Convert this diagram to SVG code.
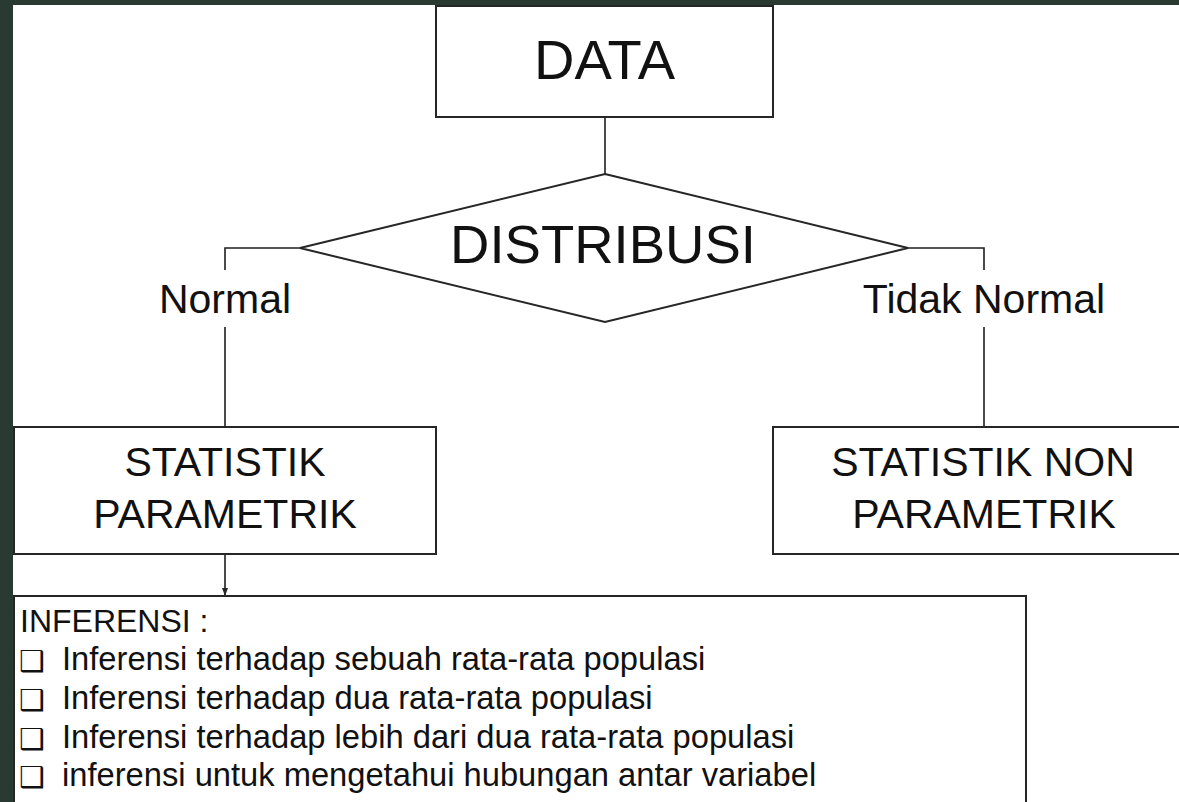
<svg xmlns="http://www.w3.org/2000/svg" width="1179" height="802" viewBox="0 0 1179 802">
<style>
.box{fill:#ffffff;stroke:#262626;stroke-width:2}
.ln{fill:none;stroke:#1e1e1e;stroke-width:1.6}
.t{font-family:"Liberation Sans",Arial,sans-serif;fill:#111111}
.c{text-anchor:middle}
.b{font-family:"DejaVu Sans","Noto Sans",sans-serif;fill:#111111}
</style>
<defs>
<marker id="ah" markerWidth="8" markerHeight="6" refX="8" refY="3" orient="auto" markerUnits="userSpaceOnUse">
<path d="M0,0 L8,3 L0,6 Z" fill="#262626"/>
</marker>
</defs>
<rect x="0" y="0" width="1179" height="802" fill="#283a32"/>
<rect x="13" y="5" width="1166" height="797" fill="#ffffff"/>
<g id="connectors">
<line class="ln" x1="605" y1="117" x2="605" y2="174"/>
<polyline class="ln" points="300,248 225,248 225,270"/>
<line class="ln" x1="225" y1="327" x2="225" y2="427"/>
<polyline class="ln" points="908,248 984,248 984,270"/>
<line class="ln" x1="984" y1="327" x2="984" y2="427"/>
<line class="ln" x1="225" y1="554" x2="225" y2="596" marker-end="url(#ah)"/>
<text class="t c" x="225" y="313" font-size="41">Normal</text>
<text class="t c" x="984" y="313" font-size="41">Tidak Normal</text>
</g>
<g id="data">
<rect class="box" x="436" y="6" width="337" height="111"/>
<text class="t c" x="604.5" y="79" font-size="56">DATA</text>
</g>
<g id="distribusi">
<polygon class="box" points="605,174 908,248 605,322 300,248"/>
<text class="t c" x="603" y="263" font-size="54.5">DISTRIBUSI</text>
</g>
<g id="parametrik">
<rect class="box" x="14" y="427" width="422" height="127"/>
<text class="t c" x="225" y="476" font-size="41">STATISTIK</text>
<text class="t c" x="225" y="528" font-size="41">PARAMETRIK</text>
</g>
<g id="nonparametrik">
<rect class="box" x="773" y="427" width="440" height="127"/>
<text class="t c" x="983" y="476" font-size="41">STATISTIK NON</text>
<text class="t c" x="984" y="528" font-size="41">PARAMETRIK</text>
</g>
<g id="inferensi">
<rect class="box" x="14" y="596" width="1012" height="230"/>
<text class="t" x="20" y="632" font-size="32">INFERENSI :</text>
<text class="b" x="19" y="671" font-size="29">❑</text>
<text class="t" x="62" y="670" font-size="32.7">Inferensi terhadap sebuah rata-rata populasi</text>
<text class="b" x="19" y="710" font-size="29">❑</text>
<text class="t" x="62" y="709" font-size="32.7">Inferensi terhadap dua rata-rata populasi</text>
<text class="b" x="19" y="749" font-size="29">❑</text>
<text class="t" x="62" y="748" font-size="32.7">Inferensi terhadap lebih dari dua rata-rata populasi</text>
<text class="b" x="19" y="787" font-size="29">❑</text>
<text class="t" x="62" y="786" font-size="32.7">inferensi untuk mengetahui hubungan antar variabel</text>
</g>
</svg>
